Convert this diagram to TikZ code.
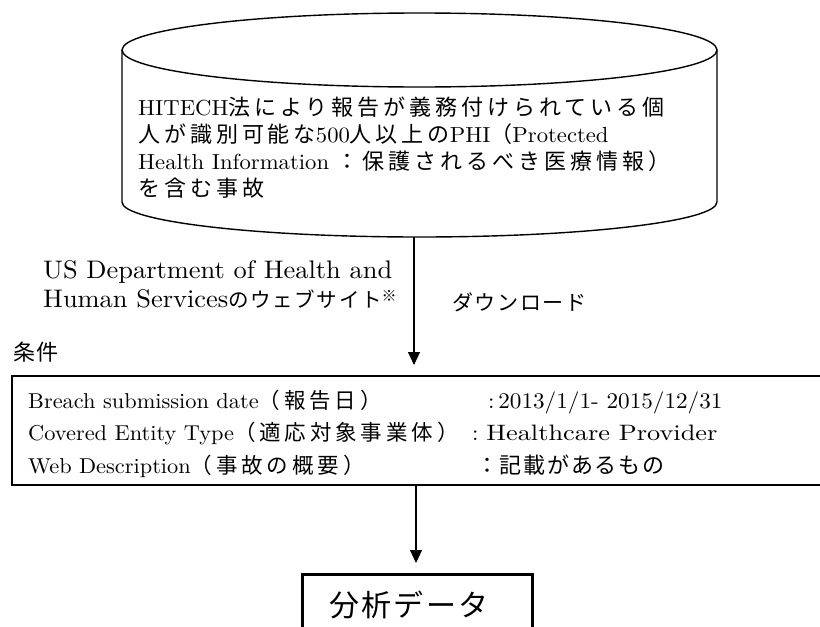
\documentclass[tikz,border=0pt]{standalone}
\usepackage{fontspec}
\setmainfont{lmroman10-regular}[Extension=.otf, FakeStretch=1.04]
\newfontfamily\jp[LetterSpace=8]{Noto Sans CJK JP}
\newfontfamily\jpa[LetterSpace=18]{Noto Sans CJK JP}
\usetikzlibrary{arrows.meta}
\newcommand\JP[2]{{\fontsize{#1}{#1}\selectfont\jp #2}}
\newcommand\JA[2]{{\fontsize{#1}{#1}\selectfont\jpa #2}}
\newcommand\LT[1]{\fontsize{#1}{#1}\selectfont}
\tikzset{
 cyl/.style={line width=1.4pt},
 txt/.style={inner sep=0pt, anchor=base west},
 arr/.style={line width=1.1pt, -{Triangle[length=13pt,width=12pt]}},
 critbox/.style={draw, line width=2pt, minimum width=812pt, minimum height=109pt, anchor=north west, inner sep=0pt},
 databox/.style={draw, line width=3pt, minimum width=230pt, minimum height=100pt, anchor=north, inner sep=0pt},
}
\begin{document}
\begin{tikzpicture}[x=1pt,y=-1pt]
\path[fill=white, use as bounding box] (0,0) rectangle (820,627);
% cylinder
\draw[cyl] (122,50) -- (122,202) arc[start angle=180, end angle=360, x radius=297.5pt, y radius=35pt] -- (717,50);
\draw[cyl] (419.5,50) ellipse[x radius=297.5pt, y radius=37pt];
\coordinate (cylbot) at (414,237);
\node[txt, font=\LT{21.8}] (cl1) at (138,115) {HITECH\JA{22}{法により報告が義務付けられている個}};
\node[txt, font=\LT{21.8}] (cl2) at (138,142) {\JA{22}{人が識別可能な}500\JA{22}{人以上の}PHI\JA{22}{（}Protected};
\node[txt, font=\LT{21.8}] (cl3) at (138,169) {Health Information\ \JA{22}{：保護されるべき医療情報）}};
\node[txt, font=\LT{21.8}] (cl4) at (138,196) {\JA{22}{を含む事故}};
% labels
\node[txt, font=\LT{25.4}] (src1) at (43,278) {US Department of Health and};
\node[txt, font=\LT{25.4}] (src2) at (43,307) {Human Services\JP{20.5}{のウェブサイト}\raisebox{6pt}{\JP{15}{※}}};
\node[txt] (dl) at (452,310) {\JP{21}{ダウンロード}};
\node[txt] (cond) at (13,360) {\JP{22}{条件}};
% criteria box
\node[critbox] (crit) at (11,375) {};
\node[txt, font=\LT{21.5}] (r1a) at (28,408) {Breach submission date\JA{21.5}{（報告日）}};
\node[txt, font=\LT{22.3}] (r1b) at (488,408) {:\,2013/1/1- 2015/12/31};
\node[txt, font=\LT{21.5}] (r2a) at (28,440) {Covered Entity Type\JA{21.5}{（適応対象事業体）}};
\node[txt, font=\LT{22.3}] (r2b) at (472,440) {:\ \resizebox{231pt}{\height}{Healthcare Provider}};
\node[txt, font=\LT{21.5}] (r3a) at (28,473) {Web Description\JA{21.5}{（事故の概要）}};
\node[txt] (r3b) at (476,473) {\JP{22}{：記載があるもの}};
% data box
\node[databox] (data) at (417.5,572.5) {};
\node[txt] (datat) at (329,616) {\JP{30}{分析データ}};
% arrows
\coordinate (a2x) at (416,0);
\draw[arr, shorten >=10pt] (cylbot) -- (cylbot |- crit.north);
\draw[arr, shorten >=9.5pt] (crit.south -| a2x) -- (a2x |- data.north);
\end{tikzpicture}
\end{document}
